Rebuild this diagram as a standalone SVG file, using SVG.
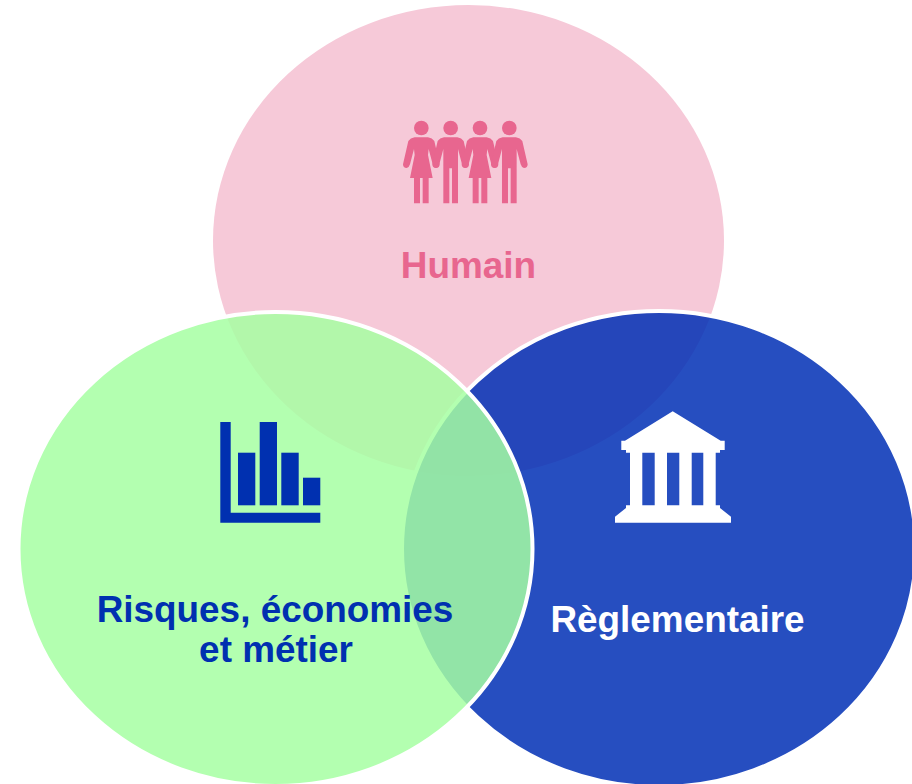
<svg xmlns="http://www.w3.org/2000/svg" width="912" height="784" viewBox="0 0 912 784">
<style>
text{font-family:"Liberation Sans",Arial,sans-serif;font-weight:700;font-size:36.900px}
.ring{stroke:#fff;stroke-width:4}
.p{fill:#E8668F}
.b{fill:#0030B0}
.w{fill:#fff}
</style>
<defs>
<g id="woman"><circle cx="94" cy="69" r="22"/><path d="M74 97H114Q127 99 133 108L149 178Q149 189 138 189Q131 188 128 178L116 132L114 150L128 219H116V295H98V219H90V295H72V219H60L74 150L72 132L60 178Q57 188 50 189Q39 189 39 178L55 108Q61 99 74 97Z"/></g>
<g id="man"><circle cx="94" cy="69" r="22"/><path d="M74 97H114Q127 99 133 108L149 178Q149 189 138 189Q131 188 128 178L116 132V295H98V190H90V295H72V132L60 178Q57 188 50 189Q39 189 39 178L55 108Q61 99 74 97Z"/></g>
</defs>
<rect width="912" height="784" fill="#fff"/>
<g id="humain">
<ellipse cx="468.500" cy="240.500" rx="255.500" ry="235.500" fill="#F6C9D8"/>
<g class="p" transform="translate(390 105) scale(.3333)">
<use href="#woman"/><use href="#man" x="88"/><use href="#woman" x="176"/><use href="#man" x="264"/>
</g>
<text x="468.500" y="277.500" text-anchor="middle" fill="#E8668F">Humain</text>
</g>
<g id="reglementaire">
<ellipse class="ring" cx="659" cy="549" rx="257" ry="238" fill="#002FB5" fill-opacity=".85"/>
<path class="w" d="M672.700 411.300L720.700 440.700H724.700V450H720V452.700H715.700V505.300H720V508L731 516.700V522.700H615V516.700L626 508V505.300H630V452.700H626V450H621.300V440.700H625Z M642.300 452.700V505.300H654.700V452.700Z M667 452.700V505.300H679.300V452.700Z M691.700 452.700V505.300H703.300V452.700Z" fill-rule="evenodd"/>
<text x="677.500" y="632" text-anchor="middle" fill="#fff">Règlementaire</text>
</g>
<g id="risques">
<ellipse class="ring" cx="275.500" cy="549" rx="257" ry="237" fill="#A6FFA2" fill-opacity=".85"/>
<g class="b">
<path d="M220.300 422H230.700V512.700H320.300V522.700H220.300Z"/>
<rect x="238" y="452.700" width="17.300" height="52.600"/>
<rect x="259.700" y="422" width="17.300" height="83.300"/>
<rect x="281.300" y="452.700" width="17.400" height="52.600"/>
<rect x="303" y="477.700" width="17.300" height="27.600"/>
</g>
<text x="275" y="622" text-anchor="middle" fill="#0030B0">Risques, économies</text>
<text x="276" y="662" text-anchor="middle" fill="#0030B0">et métier</text>
</g>
<g id="connectors"/>
</svg>
